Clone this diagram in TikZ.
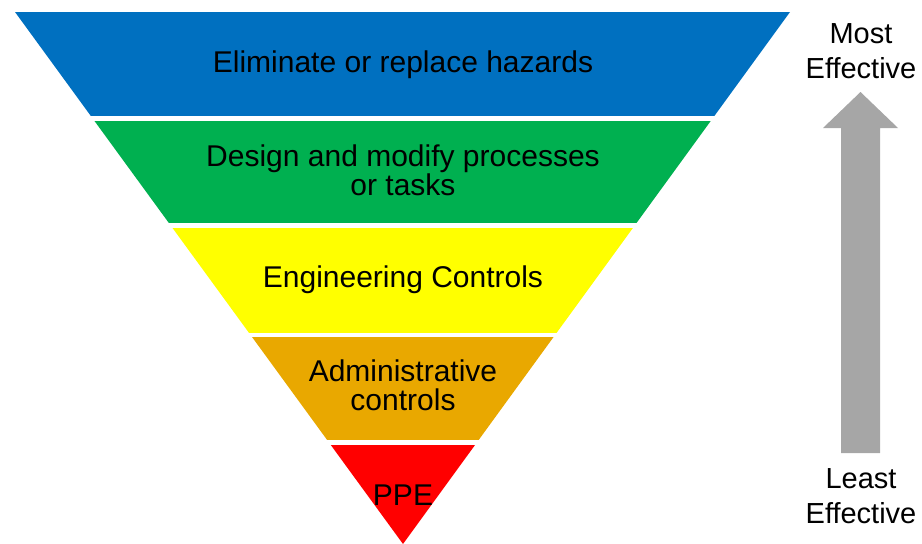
\documentclass[tikz,border=0pt]{standalone}
\usepackage{fontspec}
\setmainfont{Liberation Sans}

\definecolor{hazardblue}{HTML}{0070C0}
\definecolor{designgreen}{HTML}{00B050}
\definecolor{engyellow}{HTML}{FFFF00}
\definecolor{adminorange}{HTML}{E9A800}
\definecolor{ppered}{HTML}{FF0000}
\definecolor{arrowgray}{HTML}{A6A6A6}

\tikzset{
  band label/.style={anchor=base,inner sep=0,align=center,text=black,
    font=\fontsize{30}{29}\selectfont},
  side label/.style={anchor=base,inner sep=0,align=center,text=black,
    font=\fontsize{29}{35}\selectfont},
}

\begin{document}
\begin{tikzpicture}[x=1pt,y=-1pt]
    \pgfmathsetmacro{\pagewidth}{922}
    \pgfmathsetmacro{\pageheight}{544}
    \pgfmathsetmacro{\midx}{403}
    \useasboundingbox (0,0) rectangle (\pagewidth,\pageheight);
    % inverted triangle cut into five bands
    \begin{scope}
        \clip (15,12) -- (790,12) -- (\midx,\pageheight) -- cycle;
        \fill[hazardblue] (0,12) rectangle (\pagewidth,116);
        \fill[designgreen] (0,121) rectangle (\pagewidth,223);
        \fill[engyellow] (0,228) rectangle (\pagewidth,333);
        \fill[adminorange] (0,337) rectangle (\pagewidth,440);
        \fill[ppered] (0,445) rectangle (\pagewidth,\pageheight);
    \end{scope}
    % base of a two-line label is its last line
    \node[band label] (hazards) at (\midx,72) {Eliminate or replace hazards};
    \node[band label] (design) at (\midx,195) {Design and modify processes\\or tasks};
    \node[band label] (engineering) at (\midx,287) {Engineering Controls};
    \node[band label] (admin) at (\midx,410) {Administrative\\controls};
    \node[band label] (ppe) at (\midx,505) {PPE};
    % effectiveness scale
    \node[side label] (most) at (861,78) {Most\\Effective};
    \node[side label] (least) at (861,523) {Least\\Effective};
    \fill[arrowgray] (860.5,92) -- (898,128) -- (880,128) -- (880,453)
        -- (841,453) -- (841,128) -- (823,128) -- cycle;
\end{tikzpicture}
\end{document}
